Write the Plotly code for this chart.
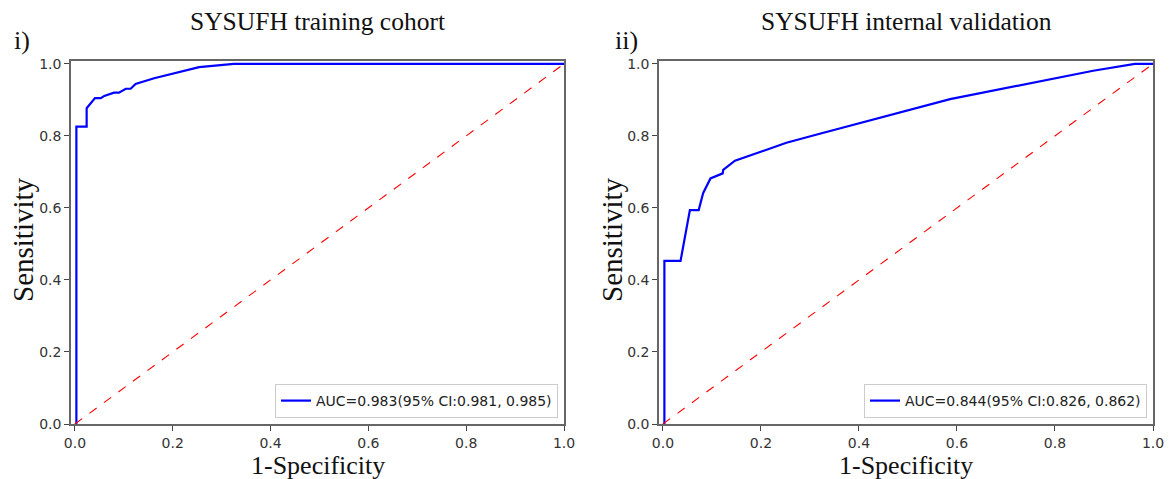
import plotly.graph_objects as go

# Training cohort ROC
train_fpr = [0.0, 0.003, 0.003, 0.024, 0.024, 0.041, 0.053, 0.060, 0.080, 0.090, 0.104, 0.114, 0.124, 0.162, 0.254, 0.325, 1.0]
train_tpr = [0.0, 0.0, 0.826, 0.826, 0.877, 0.905, 0.905, 0.911, 0.920, 0.920, 0.931, 0.931, 0.944, 0.960, 0.991, 1.0, 1.0]
# Internal validation ROC
val_fpr = [0.0, 0.003, 0.003, 0.036, 0.055, 0.073, 0.082, 0.097, 0.122, 0.123, 0.147, 0.252, 0.320, 0.586, 0.878, 0.963, 1.0]
val_tpr = [0.0, 0.0, 0.453, 0.453, 0.594, 0.594, 0.641, 0.682, 0.696, 0.706, 0.731, 0.781, 0.806, 0.902, 0.981, 1.0, 1.0]

diag = [0.0, 1.0]
tick_vals = [0.0, 0.2, 0.4, 0.6, 0.8, 1.0]
tick_text = ["0.0", "0.2", "0.4", "0.6", "0.8", "1.0"]
titles = ["SYSUFH training cohort", "SYSUFH internal validation"]
panel_tags = ["i)", "ii)"]
labels = ["AUC=0.983(95% CI:0.981, 0.985)", "AUC=0.844(95% CI:0.826, 0.862)"]

W, H = 1169, 479
serif = "Liberation Serif, Times New Roman, serif"
sans = "DejaVu Sans, sans-serif"


def px(xp):
    return xp / W


def py(yp):
    return 1 - yp / H


fig = go.Figure()

xdomains = [[px(71), px(564)], [px(659), px(1153)]]
ydomain = [py(424), py(61)]

curves = [(train_fpr, train_tpr), (val_fpr, val_tpr)]
for i, (fx, ty) in enumerate(curves):
    xa = "x" if i == 0 else "x2"
    ya = "y" if i == 0 else "y2"
    lg = "legend" if i == 0 else "legend2"
    fig.add_trace(go.Scatter(x=fx, y=ty, mode="lines", xaxis=xa, yaxis=ya,
                             line=dict(color="#0000ff", width=2.2), name=labels[i],
                             legend=lg, showlegend=True))
    fig.add_trace(go.Scatter(x=diag, y=diag, mode="lines", xaxis=xa, yaxis=ya,
                             line=dict(color="#ff0000", width=1.1, dash="dash"),
                             showlegend=False))

axis_common = dict(tickvals=tick_vals, ticktext=tick_text, ticks="outside",
                   ticklen=5, tickwidth=1.2, tickcolor="#444", showline=True, mirror=True,
                   linecolor="#666", linewidth=1.5, showgrid=False, zeroline=False,
                   automargin=False,
                   tickfont=dict(family=sans, size=14, color="#333"))

for i in range(2):
    sx = "" if i == 0 else "2"
    xa = dict(axis_common)
    xa.update(range=[-0.008, 1.0], domain=xdomains[i], anchor="y" + sx)
    ya = dict(axis_common)
    ya.update(range=[0, 1.008], domain=ydomain, anchor="x" + sx)
    fig.layout["xaxis" + sx] = xa
    fig.layout["yaxis" + sx] = ya

ann = []
centers = [(xdomains[0][0] + xdomains[0][1]) / 2, (xdomains[1][0] + xdomains[1][1]) / 2]
for i in range(2):
    ann.append(dict(text=titles[i], x=centers[i], y=py(22), xref="paper", yref="paper",
                    showarrow=False, font=dict(family=serif, size=25.5, color="#111"),
                    xanchor="center", yanchor="middle"))
    ann.append(dict(text="1-Specificity", x=centers[i], y=py(465), xref="paper", yref="paper",
                    showarrow=False, font=dict(family=serif, size=26, color="#111"),
                    xanchor="center", yanchor="middle", borderpad=0))
    ann.append(dict(text="Sensitivity", x=px(23 if i == 0 else 612), y=py(240),
                    xref="paper", yref="paper", textangle=-90, showarrow=False,
                    font=dict(family=serif, size=29, color="#111"),
                    xanchor="center", yanchor="middle"))
ann.append(dict(text=panel_tags[0], x=px(22), y=py(40), xref="paper", yref="paper",
                showarrow=False, font=dict(family=serif, size=26, color="#111"),
                xanchor="center", yanchor="middle"))
ann.append(dict(text=panel_tags[1], x=px(626), y=py(40), xref="paper", yref="paper",
                showarrow=False, font=dict(family=serif, size=26, color="#111"),
                xanchor="center", yanchor="middle"))

legend_style = dict(bgcolor="rgba(255,255,255,0.9)", bordercolor="#cccccc", borderwidth=1,
                    font=dict(family=sans, size=14, color="#222"), xanchor="right",
                    yanchor="bottom", yref="paper", xref="paper", itemwidth=30,
                    tracegroupgap=0)
l1 = dict(legend_style)
l1.update(x=px(558), y=py(418))
l2 = dict(legend_style)
l2.update(x=px(1147), y=py(418))

fig.update_layout(width=W, height=H, margin=dict(l=0, r=0, t=0, b=0),
                  paper_bgcolor="white", plot_bgcolor="white", annotations=ann,
                  legend=l1, legend2=l2)

fig.write_html("out.html", config={"displayModeBar": False},
               post_script="document.body.style.margin='0';document.body.style.overflow='hidden';")
